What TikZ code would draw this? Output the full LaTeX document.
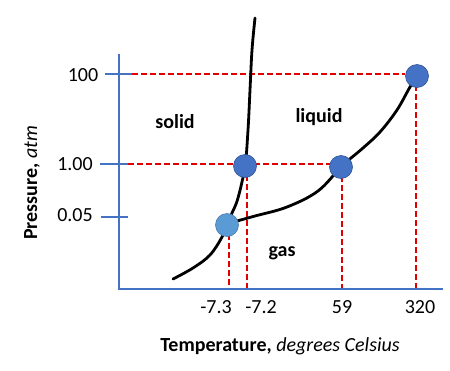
\documentclass[tikz,border=0pt]{standalone}
\usepackage{fontspec}
\setmainfont{Carlito}
\definecolor{axisblue}{HTML}{4472C4}
\definecolor{dotblue}{HTML}{4472C4}
\definecolor{dotedge}{HTML}{2F5597}
\definecolor{lightdot}{HTML}{5B9BD5}
\definecolor{dashred}{HTML}{E00000}
\tikzset{
  axisline/.style={draw=axisblue, line width=1.8pt},
  reddash/.style={draw=dashred, line width=1.4pt, dash pattern=on 6pt off 3pt},
  phasecurve/.style={draw=black, line width=2.8pt, line cap=round},
  dotnode/.style={circle, fill=dotblue, draw=dotedge, line width=0.6pt, minimum size=23pt, inner sep=0pt},
  tripledot/.style={dotnode, fill=lightdot, draw=lightdot!80!black},
  ticklabel/.style={font=\fontsize{20}{24}\selectfont, inner sep=0pt},
  region/.style={font=\fontsize{20}{24}\selectfont\bfseries, inner sep=0pt},
}
\begin{document}
\begin{tikzpicture}[x=1pt,y=-1pt]
\useasboundingbox (0,0) rectangle (450,370);
% coordinates
\coordinate (ytop) at (119,54);
\coordinate (origin) at (119,289);
\coordinate (xend) at (443,289);
\coordinate (t100a) at (105,74);
\coordinate (t100b) at (132,74);
\coordinate (t1a) at (100,164);
\coordinate (t1b) at (128,164);
\coordinate (t005a) at (101,217);
\coordinate (t005b) at (128,217);
\coordinate (bx73) at (229,289);
\coordinate (bx72) at (247,289);
\coordinate (bx59) at (342,289);
\coordinate (bx320) at (416,289);
\coordinate (top72) at (247,166);
% dashed guides
\draw[reddash] (t100b) -- (405,74);
\draw[reddash] (t1b) -- (330,164);
\draw[reddash] (229,225) -- (bx73);
\draw[reddash] (top72) -- (bx72);
\draw[reddash] (342,167) -- (bx59);
\draw[reddash] (416,76) -- (bx320);
% axes
\draw[axisline] (ytop) -- (origin) -- (xend);
\draw[axisline] (t100a) -- (t100b);
\draw[axisline] (t1a) -- (t1b);
\draw[axisline] (t005a) -- (t005b);
% curves
\draw[phasecurve] plot[smooth, tension=0.6] coordinates {(255,18) (252,50) (250,90) (248,130) (245,166) (238,198) (232,213) (227,224) (222,237) (210,255) (193,268) (173,279)};
\draw[phasecurve] plot[smooth, tension=0.6] coordinates {(237,221) (255,216) (287,207) (318,191) (342,166) (363,148) (380,132) (397,110) (410,87) (418,75)};
% dots
\node[dotnode] (p320) at (417,76) {};
\node[dotnode] (p72) at (245,166) {};
\node[dotnode] (p59) at (341,167) {};
\node[tripledot] (p73) at (227,225) {};
% tick labels
\node[ticklabel] (l100) at (83,75) {100};
\node[ticklabel] (l1) at (75,164) {1.00};
\node[ticklabel] (l005) at (75,215) {0.05};
\node[ticklabel] (lm73) at (216,307) {-7.3};
\node[ticklabel] (lm72) at (261,307) {-7.2};
\node[ticklabel] (l59) at (342,307) {59};
\node[ticklabel] (l320) at (420,307) {320};
% region labels
\node[region] (solid) at (175,122) {solid};
\node[region] (liquid) at (319,117) {liquid};
\node[region] (gas) at (282,253) {gas};
% axis titles
\node[ticklabel] (xtitle) at (280,346) {\textbf{Temperature,} \textit{degrees Celsius}};
\node[ticklabel, rotate=90] (ytitle) at (32,183) {\textbf{Pressure,} \textit{atm}};
\end{tikzpicture}
\end{document}
